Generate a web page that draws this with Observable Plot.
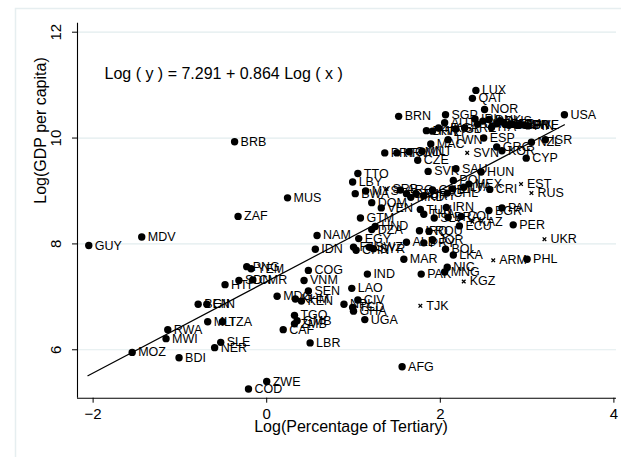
<!DOCTYPE html>
<html>
<head>
<meta charset="utf-8">
<script src="https://cdn.jsdelivr.net/npm/d3@7"></script>
<script src="https://cdn.jsdelivr.net/npm/@observablehq/plot@0.6"></script>
<style>
  body { margin: 0; background: #fff; }
  #chart { width: 621px; height: 457px; }
</style>
</head>
<body>
<div id="chart"></div>
<script>
// ---- data ----
const countries = [
  "GUY","MDV","BRB","ZAF","MUS","NAM","IDN","MOZ","BDI","RWA",
  "MWI","NER","SLE","MLI","TZA","BEN","GIN","HTI","PNG","YEM",
  "SDN","CMR","COG","VNM","SEN","MDG","KHM","KEN","TGO","ZMB",
  "GMB","CAF","LBR","ZWE","COD","AFG","IND","LAO","CIV","NPL",
  "TCD","GHA","UGA","TJK","PAK","NIC","MNG","KGZ","ARM","PHL",
  "UKR","PER","MAR","LKA","BOL","JOR","ALB","PRY","IRQ","ROU",
  "ECU","COL","KAZ","BGR","PAN","IRN","TUN","THA","SLV","BRA",
  "GTM","HND","DZA","EGY","SWZ","SYR","FJI","CHN","DOM","VEN",
  "BWA","MYS","LBY","TTO","SRB","ARG","GAB","MKD","TUR","URY",
  "CUB","CHL","LTU","LVA","CZE","SVK","SAU","HUN","POL","MEX",
  "CRI","EST","RUS","SVN","MLT","PRT","HRV","OMN","MAC","TWN",
  "ESP","GRC","KOR","NZL","ISR","CYP","USA","LUX","QAT","NOR",
  "BRN","SGP","BHR","KWT","HKG","AUT","ISL","ARE","IRL","CHE",
  "NLD","DNK","ITA","AUS","BEL","DEU","FRA","GBR","JPN","SWE",
  "FIN","CAN"
];
const logTertiary = [
  -2.05,-1.44,-0.37,-0.33, 0.24, 0.58, 0.56,-1.55,-1.01,-1.14,
  -1.16,-0.60,-0.53,-0.68,-0.51,-0.79,-0.69,-0.48,-0.23,-0.18,
  -0.32,-0.16, 0.48, 0.43, 0.48, 0.12, 0.33, 0.40, 0.32, 0.32,
   0.35, 0.19, 0.50, 0.00,-0.21, 1.56, 1.16, 0.98, 1.05, 0.89,
   0.99, 1.00, 1.13, 1.77, 1.78, 2.08, 2.05, 2.27, 2.61, 3.00,
   3.20, 2.84, 1.58, 2.15, 2.06, 1.91, 1.61, 1.81, 1.76, 1.87,
   2.22, 2.24, 2.37, 2.56, 2.71, 2.07, 1.77, 1.81, 1.93, 2.09,
   1.08, 1.25, 1.21, 1.06, 1.18, 1.23, 1.00, 1.03, 1.21, 1.32,
   1.02, 1.14, 0.99, 1.05, 1.38, 1.54, 1.61, 1.66, 1.72, 1.81,
   1.91, 2.08, 2.14, 2.27, 1.74, 1.86, 2.18, 2.47, 2.15, 2.33,
   2.57, 2.93, 3.05, 2.31, 1.79, 1.36, 1.50, 1.64, 1.89, 2.09,
   2.50, 2.65, 2.71, 3.05, 3.21, 2.99, 3.43, 2.41, 2.37, 2.51,
   1.52, 2.06, 1.84, 1.91, 1.98, 2.05, 2.18, 2.28, 2.40, 2.43,
   2.49, 2.56, 2.59, 2.69, 2.74, 2.79, 2.83, 2.88, 2.92, 2.97,
   3.01, 2.65
];
const logGDP = [
   7.97, 8.13, 9.93, 8.52, 8.87, 8.16, 7.90, 5.95, 5.85, 6.38,
   6.21, 6.04, 6.14, 6.53, 6.53, 6.86, 6.86, 7.23, 7.57, 7.53,
   7.31, 7.32, 7.50, 7.31, 7.11, 7.01, 6.96, 6.92, 6.65, 6.49,
   6.55, 6.38, 6.13, 5.40, 5.26, 5.68, 7.43, 7.16, 6.94, 6.86,
   6.80, 6.73, 6.57, 6.83, 7.43, 7.56, 7.47, 7.29, 7.69, 7.71,
   8.09, 8.36, 7.71, 7.79, 7.90, 8.08, 8.03, 8.02, 8.25, 8.24,
   8.34, 8.52, 8.42, 8.63, 8.68, 8.69, 8.65, 8.56, 8.49, 8.50,
   8.49, 8.33, 8.27, 8.10, 7.94, 7.91, 7.94, 7.88, 8.78, 8.68,
   8.95, 9.00, 9.17, 9.33, 9.04, 9.02, 8.95, 8.88, 8.95, 8.91,
   9.02, 8.96, 9.04, 9.07, 9.58, 9.37, 9.42, 9.36, 9.20, 9.13,
   9.03, 9.13, 8.96, 9.72, 9.75, 9.72, 9.72, 9.74, 9.89, 9.97,
  10.00, 9.83, 9.76, 9.92, 9.97, 9.62,10.44,10.90,10.75,10.54,
  10.41,10.44,10.14,10.13,10.19,10.29,10.17,10.19,10.36,10.26,
  10.32,10.35,10.20,10.33,10.27,10.24,10.26,10.24,10.25,10.24,
  10.23,10.27
];
const crossMarked = ["TJK","KGZ","ARM","UKR","KAZ","SRB","EST","RUS","SVN"];
const xTicks = [-2, 0, 2, 4];
const yTicks = [6, 8, 10, 12];
const xDomain = [-2.18, 4.03];
const yDomain = [5.085, 12.17];
const fitX = [-2.06, 3.43];
const fitY = [5.51, 10.25];
const equationText = "Log ( y ) = 7.291 + 0.864 Log ( x )";
const xTitle = "Log(Percentage of Tertiary)";
const yTitle = "Log(GDP per capita)";

// ---- build tables ----
const rows = countries.map((c, i) => ({code: c, x: logTertiary[i], y: logGDP[i], cross: crossMarked.includes(c)}));
const dots = rows.filter(d => !d.cross);
const crosses = rows.filter(d => d.cross);
const fit = fitX.map((x, i) => ({x, y: fitY[i]}));

const font = "'Liberation Sans', Arial, Helvetica, sans-serif";
const fmt = d => d < 0 ? "\u2212" + Math.abs(d) : String(d);

const chart = Plot.plot({
  width: 621,
  height: 457,
  marginLeft: 77,
  marginRight: 5,
  marginTop: 22.7,
  marginBottom: 59.3,
  style: {fontFamily: font, background: "transparent", color: "#000"},
  x: {domain: xDomain},
  y: {domain: yDomain},
  marks: [
    Plot.gridY(yTicks, {stroke: "#e2ecee", strokeOpacity: 1, strokeWidth: 1.2}),
    Plot.ruleX([xDomain[0]], {stroke: "#000", strokeWidth: 1.1}),
    Plot.ruleY([yDomain[0]], {stroke: "#000", strokeWidth: 1.1}),
    Plot.axisX(xTicks, {tickSize: 5, tickPadding: 5, fontSize: 15, tickFormat: fmt, label: null, stroke: "#000"}),
    Plot.axisY(yTicks, {tickSize: 5, tickPadding: 4, tickRotate: -90, fontSize: 15, tickFormat: fmt, label: null, stroke: "#000"}),
    Plot.line(fit, {x: "x", y: "y", stroke: "#000", strokeWidth: 1.2}),
    Plot.dot(dots, {x: "x", y: "y", r: 3.7, fill: "#000", stroke: "none"}),
    Plot.dot(crosses, {x: "x", y: "y", symbol: "times", r: 1.8, stroke: "#000", strokeWidth: 1.3}),
    Plot.text(rows, {x: "x", y: "y", text: "code", textAnchor: "start", dx: 6, fontSize: 12.5, fill: "#000"}),
    Plot.text([equationText], {frameAnchor: "top-left", dx: 27, dy: 44, textAnchor: "start", fontSize: 16, fill: "#000"}),
    Plot.text([yTitle], {frameAnchor: "left", rotate: -90, dx: -37, dy: -7, fontSize: 16, fill: "#000"}),
    Plot.text([xTitle], {frameAnchor: "bottom", dx: 4, dy: 34, fontSize: 16, fill: "#000"})
  ]
});

// light outer graph-region border (decoration)
d3.select(chart).insert("rect", ":first-child")
  .attr("x", 15.5).attr("y", 8.5).attr("width", 700).attr("height", 700)
  .attr("fill", "none").attr("stroke", "#e6eef0").attr("stroke-width", 1.5);

// nudge rotated y tick labels away from the axis, as in the reference
d3.select(chart).selectAll("g[aria-label='y-axis tick label'] text")
  .attr("dx", null);
d3.select(chart).selectAll("g[aria-label='y-axis tick label']")
  .attr("transform", function() {
    const t = this.getAttribute("transform") || "";
    return t + " translate(-8,0)";
  });

document.getElementById("chart").appendChild(chart);
</script>
</body>
</html>
